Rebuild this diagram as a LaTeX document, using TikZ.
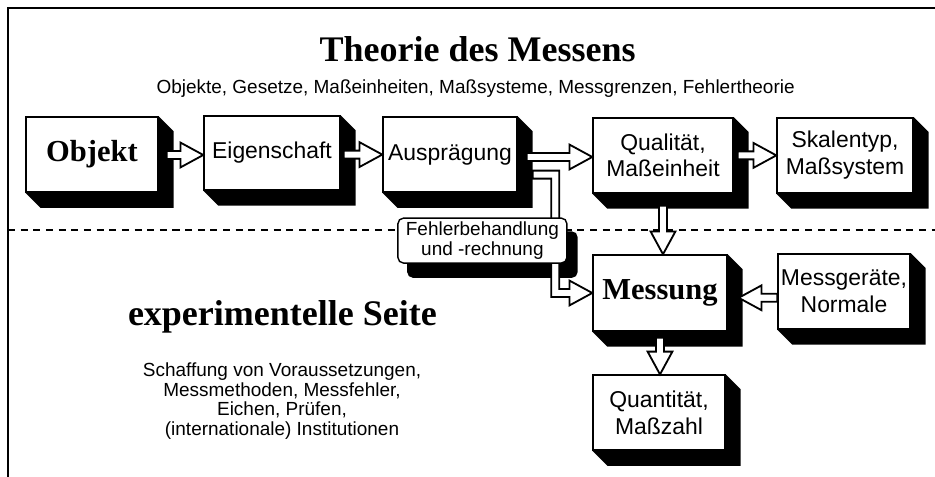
\documentclass[tikz,border=0pt]{standalone}
\usepackage{fontspec}
\setmainfont{Liberation Serif}
\setsansfont{Liberation Sans}
\usetikzlibrary{calc, backgrounds}

% hollow block arrow from #1 to #2 (straight)
\newcommand{\blockarrow}[2]{%
  \coordinate (ba-s) at (#1);
  \coordinate (ba-e) at (#2);
  \coordinate (ba-h) at ($(ba-e)!0.57cm!(ba-s)$);
  \draw[hollow] ($(ba-s)!0.1cm!90:(ba-e)$) -- ($(ba-h)!0.1cm!-90:(ba-s)$)
    -- ($(ba-h)!0.31cm!-90:(ba-s)$) -- (ba-e) -- ($(ba-h)!0.31cm!90:(ba-s)$)
    -- ($(ba-h)!0.1cm!90:(ba-s)$) -- ($(ba-s)!0.1cm!-90:(ba-e)$) -- cycle;
}

\begin{document}
\begin{tikzpicture}[
    x=1cm, y=1cm,
    every node/.style={align=center, text=black},
    box/.style={
      rectangle, draw=black, fill=white, line width=1pt,
      minimum width=3.35cm, minimum height=1.875cm, inner sep=2pt,
      font=\sffamily\fontsize{16.3}{19}\selectfont
    },
    boxBold/.style={box, font=\rmfamily\bfseries\fontsize{21.7}{24}\selectfont},
    remark/.style={
      rectangle, rounded corners=4pt, draw=black, fill=white, line width=1pt,
      minimum width=4.225cm, minimum height=1.125cm, inner sep=1pt,
      font=\sffamily\fontsize{13.5}{14.6}\selectfont
    },
    heading/.style={font=\bfseries\fontsize{25.6}{28}\selectfont, anchor=base},
    note/.style={font=\sffamily\fontsize{13.5}{14}\selectfont},
    hollow/.style={draw=black, fill=white, line width=1.3pt, line join=miter},
    frame/.style={draw=black, line width=1.5pt},
    sep/.style={draw=black, line width=1.6pt, dash pattern=on 5pt off 4pt}
  ]
    \useasboundingbox (0,0) rectangle (23.375,11.925);

    \draw[frame] (0.2,0) |- (23.375,11.725);
    \draw[sep] (0.2,6.175) -- (23.375,6.175);

    \node[heading] (title) at (11.94,10.375) {Theorie des Messens};
    \node[note, anchor=base] (topics) at (11.89,9.575)
      {Objekte, Gesetze, Maßeinheiten, Maßsysteme, Messgrenzen, Fehlertheorie};
    \node[heading] (expSide) at (7.06,3.775) {experimentelle Seite};
    \node[note] (tasks) at (7.05,1.9)
      {Schaffung von Voraussetzungen,\\Messmethoden, Messfehler,\\Eichen, Prüfen,\\(internationale) Institutionen};

    \node[boxBold, minimum width=3.30cm] (objekt) at (2.30,8.06) {Objekt};
    \node[box, minimum width=3.40cm, minimum height=1.85cm] (eigen) at (6.80,8.10) {Eigenschaft};
    \node[box] (auspr) at (11.25,8.06) {Ausprägung};
    \node[box, minimum width=3.50cm] (quali) at (16.575,8.04) {Qualität,\\Maßeinheit};
    \node[box, minimum width=3.40cm] (skala) at (21.125,8.04) {Skalentyp,\\Maßsystem};
    \node[boxBold, minimum height=1.9cm] (messung) at (16.50,4.60) {Messung};
    \node[box, minimum width=3.30cm] (geraete) at (21.10,4.64) {Messgeräte,\\Normale};
    \node[box, minimum width=3.30cm] (quant) at (16.475,1.61) {Quantität,\\Maßzahl};

    % Auspraegung -> Messung, passes behind the remark
    \coordinate (bendStart) at ($(auspr.east)+(0.375,-0.5)$);
    \coordinate (bend) at ($(auspr.east)+(0.94,-0.5)$);
    \coordinate (bendHead) at ($(messung.west)+(-0.57,0)$);
    \draw[hollow] ($(bendStart)+(0,0.1)$) -- ($(bend)+(0.1,0.1)$) |- ($(bendHead)+(0,0.1)$)
      -- ($(bendHead)+(0,0.31)$) -- (messung.west) -- ($(bendHead)+(0,-0.31)$)
      -- ($(bendHead)+(0,-0.1)$) -| ($(bend)+(-0.1,-0.1)$) -- ($(bendStart)+(0,-0.1)$) -- cycle;

    \node[remark] (fehler) at (12.06,5.91) {Fehlerbehandlung\\und -rechnung};

    \begin{scope}[on background layer]
      \foreach \b in {objekt,eigen,auspr,quali,skala,messung,geraete,quant}
        \fill (\b.north east) -- ++(0.375,-0.375) |- ($(\b.south west)+(0.375,-0.375)$) -- (\b.south west) -- cycle;
      \fill[rounded corners=4pt] ($(fehler.north west)+(0.25,-0.35)$) rectangle ($(fehler.south east)+(0.25,-0.35)$);
    \end{scope}

    \blockarrow{$(objekt.east)+(0.2,-0.01)$}{eigen.west |- ba-s}
    \blockarrow{$(eigen.east)+(0.075,-0.04)$}{auspr.west |- ba-s}
    \blockarrow{$(auspr.east)+(0.225,-0.06)$}{quali.west |- ba-s}
    \blockarrow{$(quali.east)+(0.1,0)$}{skala.west |- ba-s}
    \blockarrow{$(quali.south)+(0,-0.3)$}{ba-s |- messung.north}
    \blockarrow{$(messung.south)+(0,-0.15)$}{ba-s |- quant.north}
    \blockarrow{$(geraete.west)+(0,-0.16)$}{$(messung.east |- ba-s)+(0.275,0)$}
  \end{tikzpicture}
\end{document}
